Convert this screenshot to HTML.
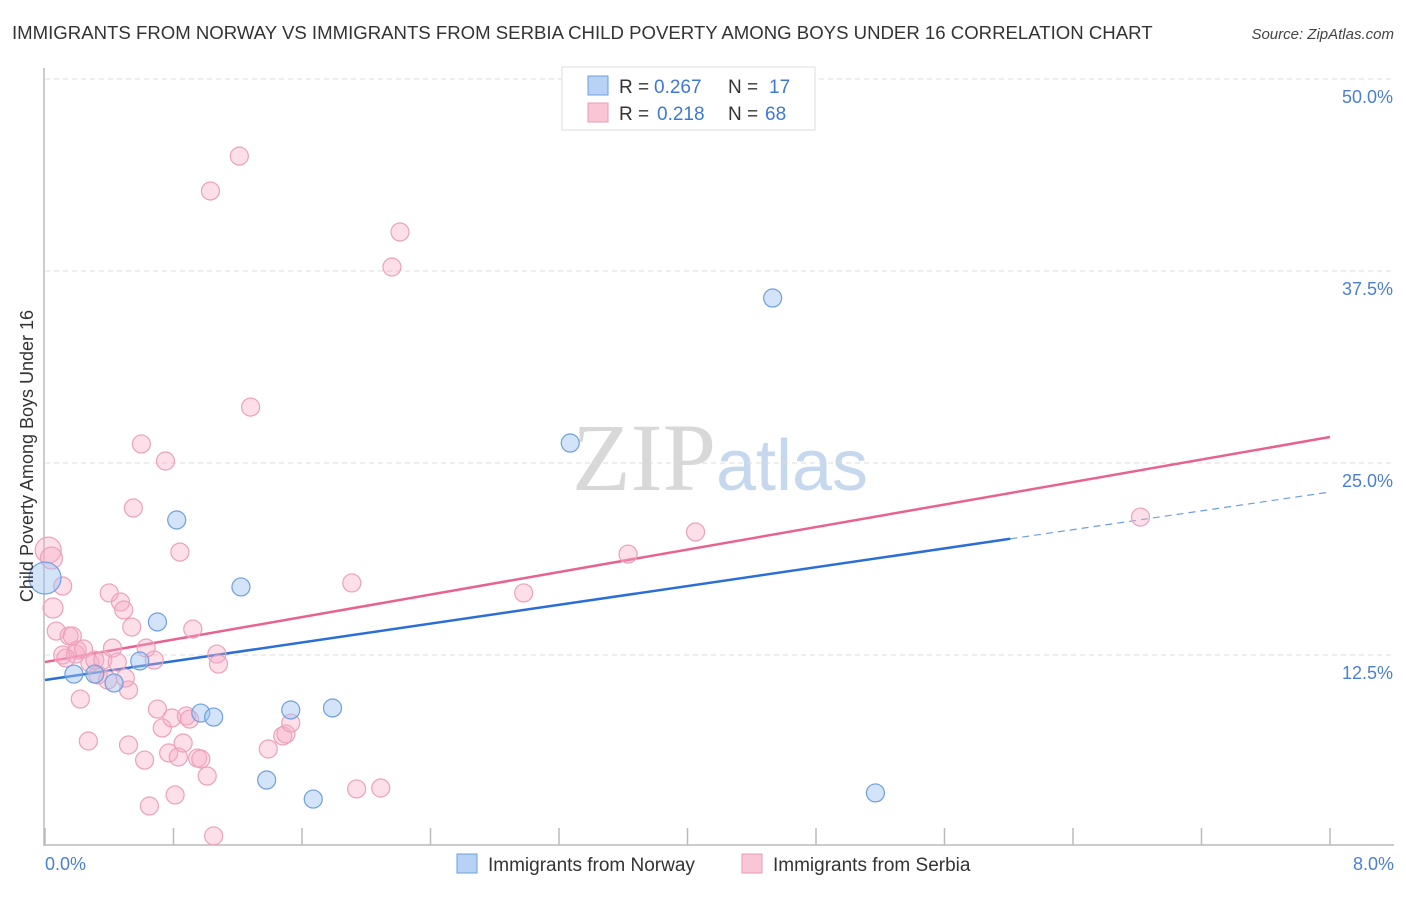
<!DOCTYPE html>
<html><head><meta charset="utf-8"><style>
body{margin:0;background:#fff;font-family:"Liberation Sans",sans-serif}
svg text{font-family:"Liberation Sans",sans-serif}
</style></head><body>
<svg id="chart" width="1406" height="892" xmlns="http://www.w3.org/2000/svg">
<text x="12" y="39" font-size="18.6" fill="#333">IMMIGRANTS FROM NORWAY VS IMMIGRANTS FROM SERBIA CHILD POVERTY AMONG BOYS UNDER 16 CORRELATION CHART</text>
<text x="1394" y="39" font-size="15" fill="#444" text-anchor="end" font-style="italic">Source: ZipAtlas.com</text>
<text x="720" y="490" font-size="96" text-anchor="middle"><tspan fill="#d8d8d8" font-family="Liberation Serif">ZIP</tspan><tspan fill="#c6d8ee" font-size="72">atlas</tspan></text>
<g id="grid"></g><g id="axes"></g><g id="lines"></g><g id="pts"></g>
<text transform="translate(33,456) rotate(-90)" font-size="18" fill="#333" text-anchor="middle">Child Poverty Among Boys Under 16</text>
<text x="45" y="870" font-size="18" fill="#4a7fd6">0.0%</text>
<text x="1394" y="870" font-size="18" fill="#4a7fd6" text-anchor="end">8.0%</text>
<g>
<rect x="562" y="67" width="253" height="63" fill="#fff" stroke="#ddd"/>
<rect x="588" y="76" width="20" height="19" fill="#b8d2f5" stroke="#6d9fe0"/>
<rect x="588" y="103" width="20" height="19" fill="#f9c6d6" stroke="#ec9ab5"/>
<text x="619" y="93" font-size="19" fill="#333">R =</text>
<text x="654" y="93" font-size="19" fill="#3f78d4">0.267</text>
<text x="728" y="93" font-size="19" fill="#333">N =</text>
<text x="769" y="93" font-size="19" fill="#3f78d4">17</text>
<text x="619" y="120" font-size="19" fill="#333">R =</text>
<text x="657" y="120" font-size="19" fill="#3f78d4">0.218</text>
<text x="728" y="120" font-size="19" fill="#333">N =</text>
<text x="765" y="120" font-size="19" fill="#3f78d4">68</text>
</g>
<g>
<rect x="457" y="854" width="20" height="19" fill="#b8d2f5" stroke="#6d9fe0"/>
<text x="488" y="871" font-size="19" fill="#333">Immigrants from Norway</text>
<rect x="742" y="854" width="20" height="19" fill="#f9c6d6" stroke="#ec9ab5"/>
<text x="773" y="871" font-size="19" fill="#333">Immigrants from Serbia</text>
</g>
</svg>
<script>
const yTicks=[12.5,25,37.5,50];
const yTickLabels=["12.5%","25.0%","37.5%","50.0%"];
const xTickVals=[0,0.8,1.6,2.4,3.2,4,4.8,5.6,6.4,7.2,8];
const norwayX=[0,0.18,0.31,0.43,0.59,0.70,0.82,0.97,1.05,1.22,1.38,1.53,1.67,1.79,3.27,4.53,5.17];
const norwayY=[17.51,11.26,11.26,10.68,12.11,14.65,21.29,8.72,8.46,16.93,4.36,8.92,3.12,9.05,26.30,35.74,3.52];
const norwayR=[16,9,9,9,9,9,9,9,9,9,9,9,9,9,9,9,9];
const serbiaX=[0.02,0.04,0.11,0.05,0.07,0.11,0.15,0.17,0.22,0.19,0.20,0.24,0.27,0.28,0.31,0.33,0.36,0.39,0.40,0.42,0.45,0.47,0.49,0.52,0.52,0.54,0.55,0.60,0.62,0.63,0.65,0.68,0.70,0.73,0.75,0.77,0.79,0.81,0.83,0.84,0.86,0.88,0.90,0.92,0.95,0.97,1.01,1.03,1.05,1.07,1.08,1.21,1.28,1.39,1.48,1.50,1.53,1.91,1.94,2.09,2.16,2.21,2.98,3.63,4.05,6.82,0.50,0.13];
const serbiaY=[19.33,18.81,16.99,15.56,14.06,12.50,13.74,13.74,9.63,12.56,12.82,12.89,6.90,11.98,12.17,11.20,12.17,10.87,16.54,12.95,12.04,15.95,15.43,10.22,6.64,14.32,22.07,26.24,5.66,12.95,2.67,12.17,8.98,7.75,25.13,6.12,8.40,3.39,5.86,19.20,6.77,8.53,8.33,14.19,5.79,5.73,4.62,42.71,0.72,12.56,11.91,44.98,28.64,6.38,7.23,7.36,8.07,17.19,3.78,3.84,37.76,40.04,16.54,19.07,20.51,21.48,11.0,12.3];
const serbiaR=[13,11,9,10,9,9,9,9,9,9,9,9,9,9,9,9,9,9,9,9,9,9,9,9,9,9,9,9,9,9,9,9,9,9,9,9,9,9,9,9,9,9,9,9,9,9,9,9,9,9,9,9,9,9,9,9,9,9,9,9,9,9,9,9,9,9,9,9];
const norwayTrend=[10.87,23.11];
const serbiaTrend=[12.04,26.69];
const norwaySolidEnd=6.01;

const NS="http://www.w3.org/2000/svg";
const sx=v=>45+v/8*1285;
const sy=v=>847-v/12.5*192;
function mk(tag,attrs,parent){const e=document.createElementNS(NS,tag);for(const k in attrs)e.setAttribute(k,attrs[k]);parent.appendChild(e);return e;}
const grid=document.getElementById('grid'),axes=document.getElementById('axes'),lines=document.getElementById('lines'),pts=document.getElementById('pts');
yTicks.forEach((t,i)=>{
  const l=mk('line',{x1:45,x2:1394,y1:sy(t),y2:sy(t),stroke:'#ddd','stroke-dasharray':'5,4'},grid);
  
  
  const tx=mk('text',{x:1393,y:sy(t)+24,'font-size':18,fill:'#4a7fd6','text-anchor':'end'},grid);
  tx.textContent=yTickLabels[i];
  
  
});
const ya=mk('line',{x1:44,x2:44,y1:68,y2:846,stroke:'#bbb','stroke-width':1.5},axes);


const xa=mk('line',{x1:44,x2:1394,y1:845,y2:845,stroke:'#bbb','stroke-width':1.5},axes);


xTickVals.forEach(v=>{
  const t=mk('line',{x1:sx(v),x2:sx(v),y1:828,y2:845,stroke:'#bbb','stroke-width':1.5},axes);
  
  
});
const tb=v=>norwayTrend[0]+(norwayTrend[1]-norwayTrend[0])*v/8;
const bl=mk('line',{x1:sx(0),y1:sy(tb(0)),x2:sx(norwaySolidEnd),y2:sy(tb(norwaySolidEnd)),stroke:'#2b6fd6','stroke-width':2.5},lines);


const bd=mk('line',{x1:sx(norwaySolidEnd),y1:sy(tb(norwaySolidEnd)),x2:sx(8),y2:sy(tb(8)),stroke:'#6d9fe0','stroke-width':1.2,'stroke-dasharray':'7,5'},lines);


const pl=mk('line',{x1:sx(0),y1:sy(serbiaTrend[0]),x2:sx(8),y2:sy(serbiaTrend[1]),stroke:'#e8628f','stroke-width':2.5},lines);


serbiaX.forEach((x,i)=>{
  const c=mk('circle',{cx:sx(x),cy:sy(serbiaY[i]),r:serbiaR[i],fill:'rgba(246,170,196,0.38)',stroke:'#eea0ba','stroke-width':1.2},pts);
  
  
});
norwayX.forEach((x,i)=>{
  const c=mk('circle',{cx:sx(x),cy:sy(norwayY[i]),r:norwayR[i],fill:'rgba(160,196,240,0.45)',stroke:'#6d9fe0','stroke-width':1.2},pts);
  
  
});
</script>
</body></html>
